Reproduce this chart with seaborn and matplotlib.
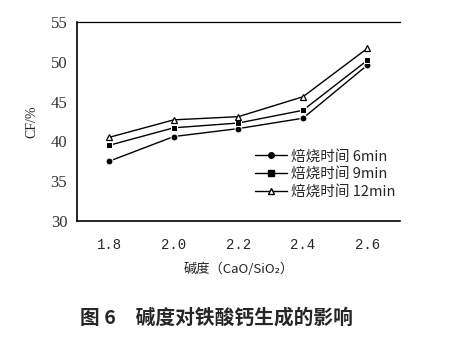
import matplotlib
matplotlib.use("Agg")
import matplotlib.pyplot as plt
import seaborn as sns
import pandas as pd
from matplotlib.lines import Line2D

# basicity (CaO/SiO2)
basicity = [1.8, 2.0, 2.2, 2.4, 2.6]
# calcium ferrite content CF/% for each roasting time
cf_6min = [37.5, 40.6, 41.6, 42.9, 49.6]
cf_9min = [39.5, 41.7, 42.3, 43.9, 50.2]
cf_12min = [40.5, 42.7, 43.1, 45.6, 51.7]
series_names = ["焙烧时间 6min", "焙烧时间 9min", "焙烧时间 12min"]
y_ticks = [30, 35, 40, 45, 50, 55]

rows = []
for name, vals in zip(series_names, [cf_6min, cf_9min, cf_12min]):
    for b, v in zip(basicity, vals):
        rows.append({"basicity": b, "CF": v, "series": name})
df = pd.DataFrame(rows)

sns.set_theme(style="white")
plt.rcParams["font.family"] = ["Noto Sans CJK SC", "DejaVu Sans"]

fig = plt.figure(figsize=(4.72, 3.44), dpi=100)
ax = fig.add_axes([0.163, 0.358, 0.684, 0.578])

markers = {series_names[0]: "o", series_names[1]: "s", series_names[2]: "^"}
sns.lineplot(data=df, x="basicity", y="CF", hue="series", style="series",
             markers=markers, dashes=False, palette=["black"] * 3,
             linewidth=1.0, markersize=5, legend=False, ax=ax)
# open triangles for the 12 min series
for line in ax.get_lines():
    if line.get_marker() == "^":
        line.set_markerfacecolor("white")
        line.set_markeredgecolor("black")
        line.set_markeredgewidth(0.9)

ax.set_xlim(1.7, 2.7)
ax.set_ylim(30, 55)
ax.set_xticks(basicity)
ax.set_xticklabels([f"{b:.1f}" for b in basicity], family="Liberation Mono", fontsize=10)
ax.set_yticks(y_ticks)
ax.set_yticklabels([str(t) for t in y_ticks], family="Liberation Serif", fontsize=12,
                   color="#333333")
ax.set_xticks([1.9, 2.1, 2.3, 2.5], minor=True)
ax.tick_params(axis="x", which="major", length=0, pad=12)
ax.tick_params(axis="x", which="minor", direction="in", length=3, width=1, color="black")
ax.tick_params(axis="y", length=0, pad=7)

for s in ["left", "bottom"]:
    ax.spines[s].set_color("black")
    ax.spines[s].set_linewidth(1.2)
ax.spines["right"].set_visible(False)
ax.spines["top"].set_color("black")
ax.spines["top"].set_linewidth(0.9)
ax.spines["top"].set_linestyle((0, (3, 1)))

ax.set_xlabel("碱度（CaO/SiO₂）", fontsize=9.5, labelpad=8, color="#222222")
ax.set_ylabel("CF/%", family="Liberation Serif", fontsize=10, labelpad=9)

handles = [
    Line2D([], [], color="black", lw=1.0, marker="o", markersize=4),
    Line2D([], [], color="black", lw=1.0, marker="s", markersize=5),
    Line2D([], [], color="black", lw=1.0, marker="^", markersize=5,
           markerfacecolor="white", markeredgecolor="black"),
]
ax.legend(handles, series_names, loc="upper left", bbox_to_anchor=(0.52, 0.41),
          frameon=False, fontsize=10.5, handlelength=2.2, handletextpad=0.3,
          labelspacing=0.25, borderpad=0.2)

fig.text(0.17, 0.075, "图 6　碱度对铁酸钙生成的影响", fontsize=14.2,
         fontweight="bold", ha="left", va="center")

fig.savefig("out.png", dpi=100)
